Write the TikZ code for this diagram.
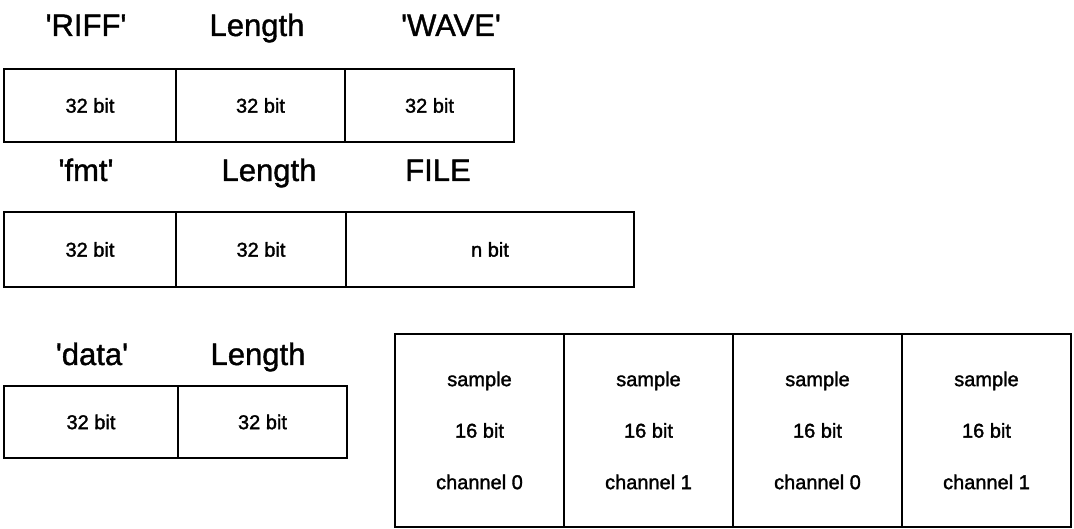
\documentclass[tikz,border=0pt]{standalone}
\usepackage{fontspec}
\setmainfont{Liberation Sans}
\newfontfamily\labelfont[FakeBold=1.2]{Liberation Sans}
\newfontfamily\cellfont[FakeBold=1.6]{Liberation Sans}
\newcommand{\sq}{\textquotesingle}
\begin{document}
\begin{tikzpicture}[x=1pt,y=-1pt,
  cell/.style={draw=black, line width=1.2pt, rectangle, inner sep=0pt,
    font=\cellfont\fontsize{20}{24}\selectfont},
  samplecell/.style={draw=black, line width=1.2pt, rectangle, inner sep=0pt,
    align=center, font=\cellfont\fontsize{20}{51.5}\selectfont,
    minimum width=169pt, minimum height=193pt},
  fieldlabel/.style={anchor=base, inner sep=0pt, font=\labelfont\fontsize{31}{36}\selectfont}]
\useasboundingbox (0,0) rectangle (1074,529);

% RIFF header chunk
\node[fieldlabel] (riffL)  at (86,36)  {\sq RIFF\sq};
\node[fieldlabel] (lenL1)  at (257,36) {Length};
\node[fieldlabel] (waveL)  at (451,36) {\sq WAVE\sq};
\node[cell, minimum width=172pt, minimum height=73pt] (riff) at (90,105.5)  {32 bit};
\node[cell, minimum width=169pt, minimum height=73pt] (len1) at (260.5,105.5) {32 bit};
\node[cell, minimum width=169pt, minimum height=73pt] (wave) at (429.5,105.5) {32 bit};

% fmt chunk
\node[fieldlabel] (fmtL)  at (86,181)  {\sq fmt\sq};
\node[fieldlabel] (lenL2) at (269,181) {Length};
\node[fieldlabel] (fileL) at (438,181) {FILE};
\node[cell, minimum width=172pt, minimum height=75pt] (fmt)  at (90,249.5)  {32 bit};
\node[cell, minimum width=170pt, minimum height=75pt] (len2) at (261,249.5) {32 bit};
\node[cell, minimum width=288pt, minimum height=75pt] (file) at (490,249.5) {n bit};

% data chunk header
\node[fieldlabel] (dataL) at (92,365)  {\sq data\sq};
\node[fieldlabel] (lenL3) at (258,365) {Length};
\node[cell, minimum width=174pt, minimum height=72pt] (data) at (91,422)    {32 bit};
\node[cell, minimum width=169pt, minimum height=72pt] (len3) at (262.5,422) {32 bit};

% interleaved stereo samples
\node[samplecell] (s1) at (479.5,430.5) {sample\\16 bit\\channel 0};
\node[samplecell] (s2) at (648.5,430.5) {sample\\16 bit\\channel 1};
\node[samplecell] (s3) at (817.5,430.5) {sample\\16 bit\\channel 0};
\node[samplecell] (s4) at (986.5,430.5) {sample\\16 bit\\channel 1};
\end{tikzpicture}
\end{document}
